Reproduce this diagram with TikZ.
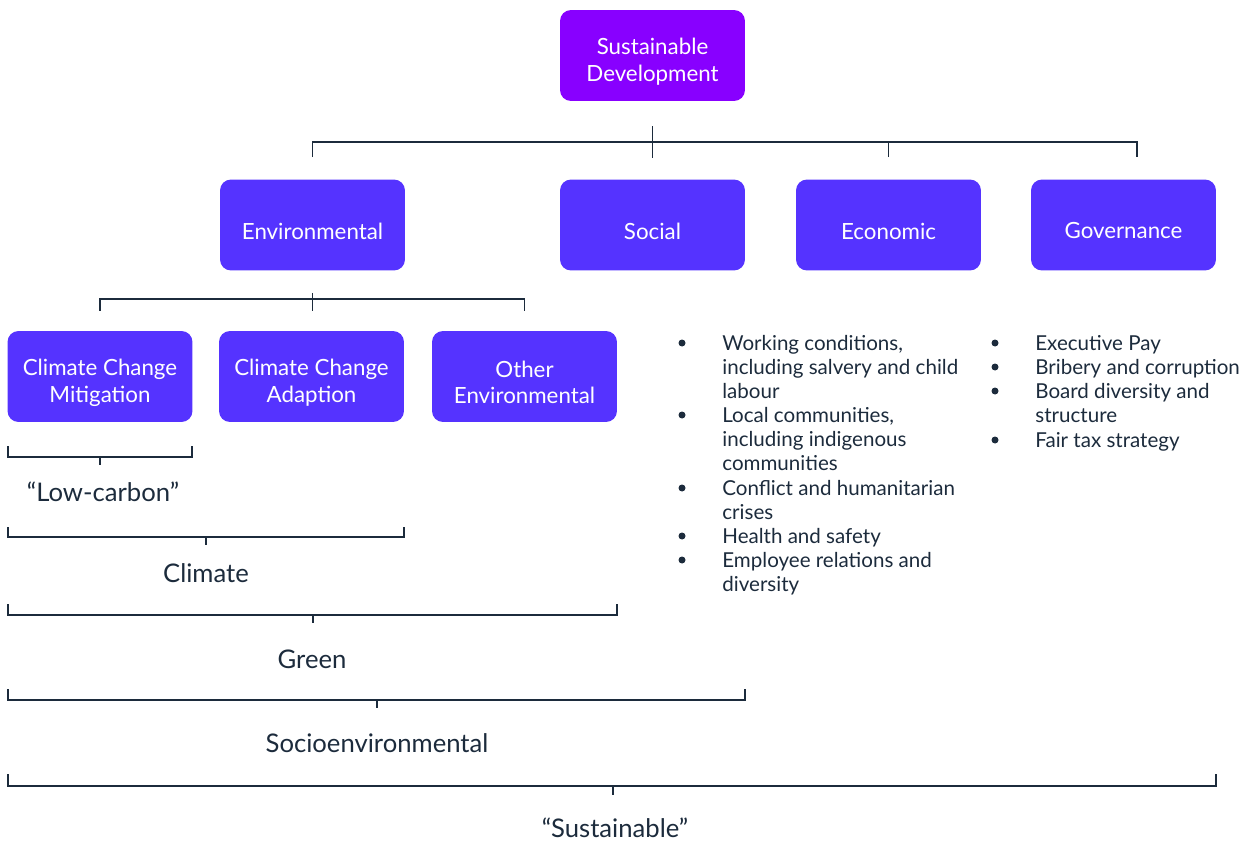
\documentclass[tikz,border=0pt]{standalone}
\usepackage{fontspec}
\setmainfont{Lato}
\definecolor{topc}{HTML}{8800FF}
\definecolor{boxc}{HTML}{5533FF}
\definecolor{ink}{HTML}{1C2B3C}
\begin{document}
\begin{tikzpicture}[x=0.02cm,y=-0.02cm,
  box/.style={fill=boxc, draw=none, rounded corners=0.22cm, minimum width=3.7cm, minimum height=1.82cm, inner sep=0pt,
    label={[text=white, align=center, font=\fontsize{12.7}{15.2}\selectfont, inner sep=0pt, yshift=-0.12cm]center:#1}},
  conn/.style={draw=ink, line width=0.8pt},
  lbl/.style={text=ink, font=\fontsize{14.6}{17}\selectfont, inner sep=0pt},
  blist/.style={text=ink, font=\fontsize{11.7}{13.6}\selectfont, align=left, anchor=north west, inner sep=0pt},
  dot/.style={circle, fill=ink, inner sep=0pt, minimum size=0.14cm}]
\useasboundingbox (0,0) rectangle (1247,841);
% boxes
\node[box={Sustainable\\Development}, fill=topc] (sd) at (652.5,55.5) {};
\node[box={Environmental}] (env) at (312.5,225) {};
\node[box={Social}] (soc) at (652.5,225) {};
\node[box={Economic}] (eco) at (888.5,225) {};
\node[box={Governance}] (gov) at (1123.5,225) {};
\node[box={Climate Change\\Mitigation}] (ccm) at (100,376.5) {};
\node[box={Climate Change\\Adaption}] (cca) at (311.5,376.5) {};
\node[box={Other\\Environmental}] (oth) at (524.5,376.5) {};
% top bracket
\coordinate (b1) at (653,142);
\draw[conn] ([yshift=0.44cm]env.north) |- (b1) -| ([xshift=0.27cm,yshift=0.44cm]gov.north);
\draw[conn] ([yshift=0.44cm]eco.north) -- (eco.north |- b1);
\draw[conn] ([yshift=-0.5cm]sd.south) -- ([yshift=0.42cm]soc.north);
% env bracket
\coordinate (b2) at (312,299);
\draw[conn] ([yshift=0.4cm]ccm.north) |- (b2) -| ([yshift=0.4cm]oth.north);
\draw[conn] ([yshift=-0.44cm]env.south) -- ++(0,18);
% labels
\node[lbl] (lc) at (103,492) {“Low-carbon”};
\node[lbl] (cl) at (206,573) {Climate};
\node[lbl] (gr) at (312,659) {Green};
\node[lbl] (se) at (377,743) {Socioenvironmental};
\node[lbl] (su) at (615,828) {“Sustainable”};
% lower brackets
\draw[conn] (8,446) -- (8,457) -- (192,457) -- (192,446);
\draw[conn] (100,457) -- (100,465);
\draw[conn] (8,527) -- (8,537) -- (404,537) -- (404,527);
\draw[conn] (206,537) -- (206,545);
\draw[conn] (8,604) -- (8,615) -- (617,615) -- (617,604);
\draw[conn] (313,615) -- (313,623);
\draw[conn] (8,689) -- (8,700) -- (745,700) -- (745,689);
\draw[conn] (377,700) -- (377,708);
\draw[conn] (8,774) -- (8,786) -- (1216,786) -- (1216,774);
\draw[conn] (613,786) -- (613,795);
% social list
\node[blist] (s1) at (722,335.5) {Working conditions,\\including salvery and child\\labour};
\node[blist] (s2) at (722,407.5) {Local communities,\\including indigenous\\communities};
\node[blist] (s3) at (722,480.5) {Conflict and humanitarian\\crises};
\node[blist] (s4) at (722,528.5) {Health and safety};
\node[blist] (s5) at (722,552.5) {Employee relations and\\diversity};
\foreach \y/\n in {343/a,415/b,488/c,536/d,560/e} \node[dot] (sd\n) at (682,\y) {};
% governance list
\node[blist] (g1) at (1035,335.5) {Executive Pay};
\node[blist] (g2) at (1035,359.5) {Bribery and corruption};
\node[blist] (g3) at (1035,383.5) {Board diversity and\\structure};
\node[blist] (g4) at (1035,432.5) {Fair tax strategy};
\foreach \y/\n in {343/a,367/b,391/c,440/d} \node[dot] (gd\n) at (995,\y) {};
\end{tikzpicture}
\end{document}
